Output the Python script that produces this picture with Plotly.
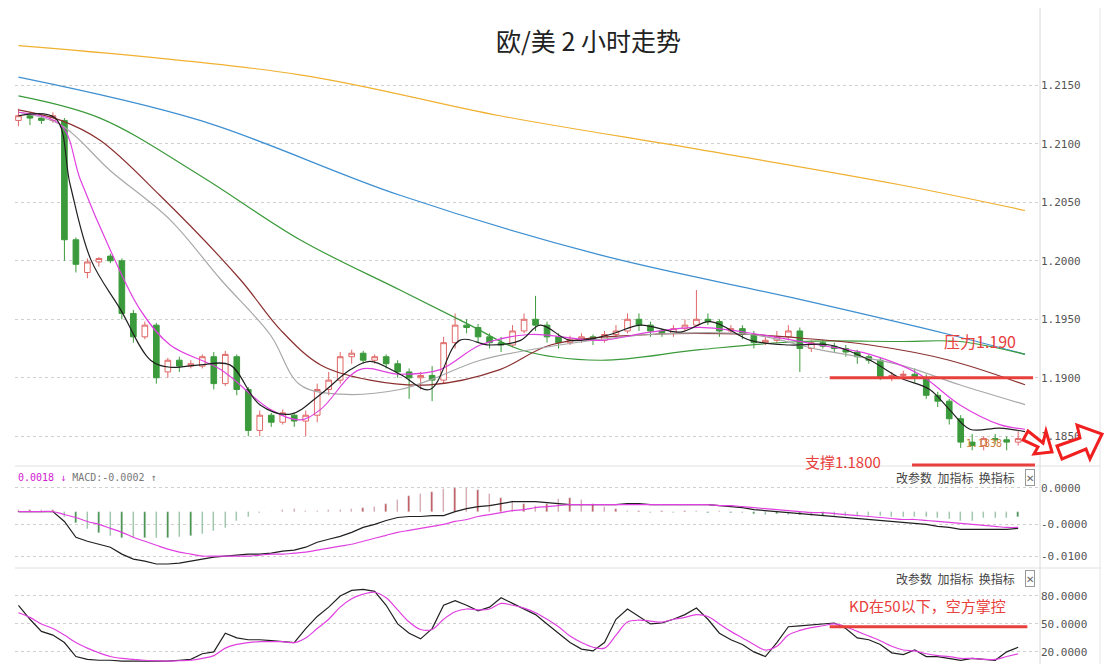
import plotly.graph_objects as go

W, H = 1097, 656
OFF = 8  # page body margin

# ---- price candles (2h bars) ----
opens = [1.2120, 1.2124, 1.2122, 1.2120, 1.2120, 1.2018, 1.1990, 1.1999, 1.2004, 1.2000,
         1.1955, 1.1935, 1.1945, 1.1905, 1.1915, 1.1910, 1.1910, 1.1918, 1.1895, 1.1918,
         1.1890, 1.1855, 1.1868, 1.1862, 1.1868, 1.1863, 1.1868, 1.1890, 1.1898, 1.1918,
         1.1921, 1.1915, 1.1918, 1.1912, 1.1905, 1.1900, 1.1902, 1.1898, 1.1930, 1.1945,
         1.1943, 1.1935, 1.1930, 1.1928, 1.1940, 1.1950, 1.1945, 1.1935, 1.1930, 1.1933,
         1.1935, 1.1932, 1.1937, 1.1940, 1.1950, 1.1945, 1.1940, 1.1938, 1.1942, 1.1945,
         1.1950, 1.1948, 1.1940, 1.1942, 1.1937, 1.1930, 1.1932, 1.1935, 1.1940, 1.1925,
         1.1930, 1.1927, 1.1925, 1.1922, 1.1918, 1.1915, 1.1900, 1.1902, 1.1903, 1.1900,
         1.1885, 1.1880, 1.1865, 1.1845, 1.1842, 1.1848, 1.1847, 1.1845]
closes = [1.2124, 1.2122, 1.2120, 1.2124, 1.2018, 1.1997, 1.1999, 1.2002, 1.2000, 1.1955,
          1.1935, 1.1945, 1.1900, 1.1915, 1.1910, 1.1912, 1.1918, 1.1895, 1.1920, 1.1890,
          1.1855, 1.1868, 1.1862, 1.1870, 1.1863, 1.1868, 1.1890, 1.1898, 1.1918, 1.1921,
          1.1915, 1.1918, 1.1912, 1.1905, 1.1900, 1.1902, 1.1898, 1.1930, 1.1945, 1.1943,
          1.1935, 1.1930, 1.1928, 1.1940, 1.1950, 1.1945, 1.1935, 1.1930, 1.1933, 1.1935,
          1.1932, 1.1937, 1.1940, 1.1950, 1.1945, 1.1940, 1.1938, 1.1942, 1.1945, 1.1950,
          1.1948, 1.1940, 1.1942, 1.1937, 1.1930, 1.1932, 1.1935, 1.1940, 1.1925, 1.1930,
          1.1927, 1.1925, 1.1922, 1.1918, 1.1915, 1.1900, 1.1902, 1.1903, 1.1900, 1.1885,
          1.1880, 1.1865, 1.1845, 1.1842, 1.1848, 1.1847, 1.1845, 1.1848]
highs = [1.2130, 1.2127, 1.2125, 1.2127, 1.2122, 1.2020, 1.2002, 1.2003, 1.2006, 1.2002,
         1.1958, 1.1948, 1.1947, 1.1917, 1.1918, 1.1915, 1.1920, 1.1922, 1.1923, 1.1920,
         1.1892, 1.1872, 1.1870, 1.1873, 1.1870, 1.1872, 1.1895, 1.1905, 1.1922, 1.1924,
         1.1923, 1.1920, 1.1920, 1.1915, 1.1908, 1.1905, 1.1910, 1.1935, 1.1955, 1.1950,
         1.1946, 1.1938, 1.1935, 1.1945, 1.1955, 1.1970, 1.1948, 1.1938, 1.1936, 1.1938,
         1.1937, 1.1940, 1.1945, 1.1955, 1.1955, 1.1948, 1.1942, 1.1945, 1.1950, 1.1975,
         1.1955, 1.1950, 1.1945, 1.1945, 1.1940, 1.1935, 1.1940, 1.1945, 1.1943, 1.1932,
         1.1932, 1.1930, 1.1928, 1.1924, 1.1920, 1.1917, 1.1905, 1.1906, 1.1908, 1.1903,
         1.1888, 1.1882, 1.1868, 1.1852, 1.1850, 1.1852, 1.1850, 1.1855]
lows = [1.2115, 1.2116, 1.2117, 1.2118, 1.2000, 1.1990, 1.1985, 1.1995, 1.1998, 1.1950,
        1.1930, 1.1933, 1.1895, 1.1900, 1.1905, 1.1908, 1.1908, 1.1890, 1.1893, 1.1885,
        1.1850, 1.1850, 1.1858, 1.1860, 1.1858, 1.1850, 1.1862, 1.1885, 1.1895, 1.1912,
        1.1912, 1.1912, 1.1908, 1.1900, 1.1882, 1.1890, 1.1880, 1.1895, 1.1925, 1.1938,
        1.1930, 1.1925, 1.1922, 1.1926, 1.1938, 1.1940, 1.1930, 1.1925, 1.1928, 1.1930,
        1.1928, 1.1930, 1.1935, 1.1938, 1.1940, 1.1935, 1.1935, 1.1935, 1.1940, 1.1944,
        1.1945, 1.1935, 1.1938, 1.1933, 1.1925, 1.1928, 1.1930, 1.1932, 1.1905, 1.1922,
        1.1925, 1.1922, 1.1918, 1.1912, 1.1912, 1.1898, 1.1897, 1.1898, 1.1896, 1.1882,
        1.1875, 1.1860, 1.1840, 1.1838, 1.1838, 1.1843, 1.1838, 1.1842]
bars = list(range(len(closes)))

# ---- moving averages (bar position, price) ----
ma_orange_x = [0, 24.5, 41.9, 59.3, 76.7, 87.6]
ma_orange_y = [1.2184, 1.2159, 1.2124, 1.2095, 1.2065, 1.2043]
ma_blue_x = [0, 15.8, 33.2, 50.6, 68, 81, 87.6]
ma_blue_y = [1.2157, 1.2120, 1.2056, 1.2005, 1.1967, 1.1937, 1.1920]
ma_green_x = [0, 7.1, 15.8, 24.5, 33.2, 39.3, 43.7, 50.6, 59.3, 68, 76.7, 81.9, 87.6]
ma_green_y = [1.2141, 1.2122, 1.2073, 1.2018, 1.1975, 1.1945, 1.1924, 1.1915, 1.1924,
              1.1931, 1.1931, 1.1931, 1.1920]
ma_brown_x = [0, 3.7, 7.1, 12.3, 19.3, 22.8, 26.3, 30.6, 35.8, 41.9, 46.3, 55, 63.7, 68,
              74.1, 81, 87.6]
ma_brown_y = [1.2129, 1.2120, 1.2103, 1.2056, 1.1984, 1.1941, 1.1911, 1.1898, 1.1894,
              1.1907, 1.1928, 1.1937, 1.1937, 1.1934, 1.1928, 1.1915, 1.1894]
ma_gray_x = [0, 3.7, 8, 13.2, 17.6, 21.9, 24.5, 28, 33.2, 35.8, 40.2, 47.1, 55, 63.7,
             69.7, 76.7, 81.9, 87.6]
ma_gray_y = [1.2127, 1.2116, 1.2077, 1.2035, 1.1984, 1.1937, 1.1894, 1.1886, 1.1890,
             1.1898, 1.1915, 1.1928, 1.1937, 1.1937, 1.1924, 1.1911, 1.1894, 1.1877]
ma_pink_x = [0, 3.7, 5.4, 8, 10.6, 13.2, 17.6, 21.9, 24.5, 26.3, 29.7, 33.2, 36.7, 40.2,
             44.5, 50.6, 55, 59.3, 64.5, 69.7, 74.1, 78.4, 81.9, 85.4, 87.6]
ma_pink_y = [1.2127, 1.2116, 1.2069, 1.2009, 1.1958, 1.1928, 1.1907, 1.1873, 1.1864,
             1.1873, 1.1907, 1.1903, 1.1907, 1.1928, 1.1937, 1.1932, 1.1939, 1.1943,
             1.1937, 1.1928, 1.1920, 1.1903, 1.1877, 1.1860, 1.1856]
ma_black_x = [0, 3.2, 4.5, 6.3, 8.9, 11.5, 13.2, 15.8, 18.4, 21, 23.7, 26.3, 28.9, 30.6,
              33.2, 35.8, 38.4, 41, 43.7, 45.4, 48, 51.5, 54.1, 57.6, 60.2, 63.7, 67.1,
              70.6, 74.1, 76.7, 79.3, 81, 82.8, 85.4, 87.6]
ma_black_y = [1.2124, 1.2122, 1.2065, 1.2001, 1.1958, 1.1915, 1.1909, 1.1911, 1.1911,
              1.1877, 1.1869, 1.1886, 1.1907, 1.1914, 1.1903, 1.1890, 1.1932, 1.1928,
              1.1932, 1.1945, 1.1932, 1.1937, 1.1945, 1.1939, 1.1948, 1.1932, 1.1928,
              1.1928, 1.1915, 1.1900, 1.1890, 1.1873, 1.1856, 1.1857, 1.1854]

# ---- MACD ----
dif = [0, 0, 0, 0, -0.0010, -0.0026, -0.0030, -0.0033, -0.0036, -0.0043,
       -0.0048, -0.0050, -0.0053, -0.0053, -0.0052, -0.0050, -0.0048, -0.0046, -0.0045, -0.0044,
       -0.0043, -0.0043, -0.0042, -0.0040, -0.0039, -0.0036, -0.0031, -0.0028, -0.0025, -0.0021,
       -0.0016, -0.0013, -0.0009, -0.0006, -0.0005, -0.0005, -0.0004, -0.0004, 0.0000, 0.0003,
       0.0005, 0.0006, 0.0008, 0.0010, 0.0010, 0.0010, 0.0009, 0.0008, 0.0007, 0.0007,
       0.0007, 0.0007, 0.0007, 0.0008, 0.0008, 0.0007, 0.0007, 0.0007, 0.0007, 0.0007,
       0.0007, 0.0006, 0.0005, 0.0004, 0.0002, 0.0001, 0.0000, -0.0001, -0.0002, -0.0003,
       -0.0004, -0.0005, -0.0006, -0.0007, -0.0008, -0.0009, -0.0010, -0.0011, -0.0012, -0.0013,
       -0.0015, -0.0016, -0.0018, -0.0018, -0.0018, -0.0018, -0.0018, -0.0017]
dea = [0, 0, 0, 0, -0.0003, -0.0006, -0.0010, -0.0013, -0.0017, -0.0021,
       -0.0026, -0.0030, -0.0034, -0.0038, -0.0041, -0.0043, -0.0045, -0.0045, -0.0045, -0.0045,
       -0.0045, -0.0044, -0.0043, -0.0043, -0.0042, -0.0041, -0.0039, -0.0037, -0.0035, -0.0033,
       -0.0030, -0.0027, -0.0024, -0.0021, -0.0019, -0.0017, -0.0015, -0.0013, -0.0010, -0.0008,
       -0.0005, -0.0003, -0.0001, 0.0001, 0.0002, 0.0004, 0.0005, 0.0006, 0.0007, 0.0007,
       0.0007, 0.0007, 0.0007, 0.0007, 0.0007, 0.0007, 0.0007, 0.0007, 0.0007, 0.0007,
       0.0007, 0.0006, 0.0006, 0.0005, 0.0004, 0.0003, 0.0002, 0.0001, 0.0000, -0.0001,
       -0.0001, -0.0002, -0.0003, -0.0004, -0.0005, -0.0006, -0.0007, -0.0008, -0.0008, -0.0009,
       -0.0010, -0.0011, -0.0012, -0.0013, -0.0014, -0.0015, -0.0016, -0.0016]
macd_hist = [0.0002, 0.0002, 0.0002, 0.0002, -0.0005, -0.0012, -0.0018, -0.0022, -0.0025, -0.0027,
             -0.0027, -0.0027, -0.0027, -0.0027, -0.0026, -0.0025, -0.0023, -0.0020, -0.0017, -0.0010,
             -0.0005, -0.0001, 0.0000, 0.0002, 0.0003, 0.0001, 0.0001, 0.0002, 0.0002, 0.0003,
             0.0004, 0.0005, 0.0008, 0.0012, 0.0016, 0.0018, 0.0020, 0.0023, 0.0024, 0.0024,
             0.0022, 0.0018, 0.0014, 0.0011, 0.0008, 0.0006, 0.0008, 0.0013, 0.0014, 0.0012,
             0.0008, 0.0005, 0.0003, 0.0001, 0.0001, -0.0001, 0.0001, -0.0001, 0.0001, 0.0001,
             -0.0001, 0.0001, -0.0001, -0.0001, -0.0002, -0.0003, -0.0002, -0.0003, -0.0003, -0.0004,
             -0.0004, -0.0004, -0.0004, -0.0004, -0.0004, -0.0004, -0.0005, -0.0005, -0.0005, -0.0005,
             -0.0006, -0.0008, -0.0010, -0.0010, -0.0007, -0.0007, -0.0006, -0.0005]

# ---- KD ----
k_line = [70, 55, 42, 38, 30, 15, 12, 11, 11, 10, 10, 10, 10, 10, 11, 12, 18, 20, 40, 35,
          33, 33, 32, 31, 30, 45, 58, 68, 80, 86, 87, 85, 70, 50, 40, 34, 45, 70, 75, 70,
          64, 68, 78, 72, 66, 60, 50, 40, 30, 23, 21, 30, 55, 66, 58, 50, 51, 55, 60, 67,
          55, 40, 33, 28, 20, 15, 30, 47, 48, 49, 50, 51, 45, 35, 33, 28, 19, 17, 22, 15,
          15, 13, 11, 13, 12, 11, 20, 25]
d_line = [62, 57, 50, 45, 38, 30, 24, 19, 15, 13, 12, 11, 10.5, 10, 10.5, 11, 13, 16, 24, 28,
          30, 31, 31, 31, 30, 35, 45, 55, 68, 77, 82, 84, 78, 65, 52, 44, 44, 55, 63, 66,
          65, 66, 72, 70, 67, 62, 55, 47, 37, 30, 25, 24, 38, 52, 54, 53, 52, 55, 57, 60,
          58, 50, 42, 35, 28, 22, 26, 38, 43, 46, 48, 50, 47, 42, 37, 32, 26, 22, 21, 18,
          16, 15, 13, 13, 12, 12, 15, 18]

price_ticks = [1.2150, 1.2100, 1.2050, 1.2000, 1.1950, 1.1900, 1.1850]
macd_ticks = [0.0024, -0.0013, -0.0045]
macd_tick_text = ["0.0000", "-0.0000", "-0.0100"]
kd_ticks = [80, 50, 20]


def px(x):
    return (x - OFF) / W


def py(y):
    return 1 - (y - OFF) / H


RED = "#e8403c"
UP = "#e06666"
DOWN = "#3b9a3b"

fig = go.Figure()
fig.add_trace(go.Candlestick(
    x=bars, open=opens, high=highs, low=lows, close=closes,
    increasing=dict(line=dict(color=UP, width=1), fillcolor="white"),
    decreasing=dict(line=dict(color=DOWN, width=1), fillcolor=DOWN),
    whiskerwidth=0, xaxis="x", yaxis="y", showlegend=False, hoverinfo="skip"))

for xs, ys, c in [(ma_orange_x, ma_orange_y, "#f0b030"), (ma_blue_x, ma_blue_y, "#3d8fd1"),
                  (ma_green_x, ma_green_y, "#3a9a3a"), (ma_brown_x, ma_brown_y, "#8b3030"),
                  (ma_gray_x, ma_gray_y, "#a8a8a8"), (ma_pink_x, ma_pink_y, "#e040e0"),
                  (ma_black_x, ma_black_y, "#202020")]:
    fig.add_trace(go.Scatter(x=xs, y=ys, mode="lines", line=dict(color=c, width=1.2, shape="spline"),
                             xaxis="x", yaxis="y", showlegend=False, hoverinfo="skip"))

fig.add_trace(go.Bar(x=bars, y=macd_hist, width=0.12,
                     marker_color=["#c05050" if v > 0 else "#3a8a3a" for v in macd_hist],
                     xaxis="x2", yaxis="y2", showlegend=False))
fig.add_trace(go.Scatter(x=bars, y=dif, mode="lines", line=dict(color="#202020", width=1.2),
                         xaxis="x2", yaxis="y2", showlegend=False))
fig.add_trace(go.Scatter(x=bars, y=dea, mode="lines", line=dict(color="#e040e0", width=1.2, shape="spline"),
                         xaxis="x2", yaxis="y2", showlegend=False))

fig.add_trace(go.Scatter(x=bars, y=k_line, mode="lines", line=dict(color="#202020", width=1.2),
                         xaxis="x3", yaxis="y3", showlegend=False))
fig.add_trace(go.Scatter(x=bars, y=d_line, mode="lines", line=dict(color="#e040e0", width=1.2, shape="spline"),
                         xaxis="x3", yaxis="y3", showlegend=False))

xdom = [px(15), px(1040)]
xr = [-0.3, 88.9]
xax = dict(domain=xdom, range=xr, showgrid=False, showticklabels=False, zeroline=False,
           rangeslider=dict(visible=False), fixedrange=True)
yax = dict(side="right", showgrid=True, gridcolor="#d0d0d0", griddash="dot", zeroline=False,
           tickfont=dict(family="DejaVu Sans Mono", size=11, color="#555"), ticks="")

fig.update_layout(
    width=W, height=H, plot_bgcolor="white", paper_bgcolor="white",
    margin=dict(l=0, r=0, t=0, b=0), bargap=0,
    xaxis=dict(xax), xaxis2=dict(xax, anchor="y2"), xaxis3=dict(xax, anchor="y3"),
    yaxis=dict(yax, domain=[py(462), py(28)], range=[1.1828, 1.2199], tickvals=price_ticks,
               tickformat=".4f", anchor="x"),
    yaxis2=dict(yax, domain=[py(566), py(470)], range=[-0.0055, 0.0042], tickvals=macd_ticks,
                ticktext=macd_tick_text, anchor="x2"),
    yaxis3=dict(yax, domain=[max(0, py(664)), py(572)], range=[7, 105.7], tickvals=kd_ticks,
                ticktext=["80.0000", "50.0000", "20.0000"], anchor="x3"),
    font=dict(family="Noto Sans CJK SC"),
)

shapes = [
    dict(type="line", xref="paper", yref="paper", x0=px(1040), x1=px(1040), y0=0, y1=1,
         line=dict(color="#d8d8d8", width=1)),
    dict(type="line", xref="paper", yref="paper", x0=px(1100), x1=px(1100), y0=0, y1=1,
         line=dict(color="#e4e4e4", width=1)),
    dict(type="line", xref="paper", yref="paper", x0=px(15), x1=px(1100), y0=py(466), y1=py(466),
         line=dict(color="#e0e0e0", width=1)),
    dict(type="line", xref="paper", yref="paper", x0=px(15), x1=px(1100), y0=py(568), y1=py(568),
         line=dict(color="#e0e0e0", width=1)),
    # resistance / support / KD lines
    dict(type="line", xref="x", yref="y", x0=70.6, x1=88.3, y0=1.1900, y1=1.1900,
         line=dict(color=RED, width=3)),
    dict(type="line", xref="paper", yref="paper", x0=px(912), x1=px(1035), y0=py(465), y1=py(465),
         line=dict(color=RED, width=3)),
    dict(type="line", xref="x3", yref="y3", x0=70.6, x1=87.8, y0=47, y1=47,
         line=dict(color=RED, width=3)),
]
# two hollow arrows (pixel outlines)
a1 = [(1028, 431), (1043, 443), (1046, 431), (1052, 452), (1034, 454), (1038, 447), (1023, 440)]
a2 = [(1057, 446), (1080, 438), (1077, 425), (1102, 434), (1090, 459), (1086, 449), (1062, 459)]
for pts in [a1, a2]:
    path = "M " + " L ".join(f"{px(x):.4f},{py(y):.4f}" for x, y in pts) + " Z"
    shapes.append(dict(type="path", xref="paper", yref="paper", path=path,
                       line=dict(color="#f02020", width=3), fillcolor="white"))
fig.update_layout(shapes=shapes)

ann = [
    dict(x=px(588), y=py(40), text="欧/美 2 小时走势", font=dict(size=25, color="#222")),
    dict(x=px(980), y=py(341), text="压力1.190", font=dict(size=16, color=RED)),
    dict(x=px(843), y=py(462), text="支撑1.1800", font=dict(size=15, color=RED)),
    dict(x=px(984), y=py(443), text="1.1838", font=dict(size=10, color="#d08040", family="DejaVu Sans Mono")),
    dict(x=px(927), y=py(605), text="KD在50以下，空方掌控", font=dict(size=15, color=RED)),
    dict(x=px(955), y=py(477), text="改参数  加指标  换指标", font=dict(size=12, color="#444")),
    dict(x=px(955), y=py(578), text="改参数  加指标  换指标", font=dict(size=12, color="#444")),
    dict(x=px(1030), y=py(477), text="✕", font=dict(size=10, color="#666"), bordercolor="#999", borderpad=0),
    dict(x=px(1030), y=py(578), text="✕", font=dict(size=10, color="#666"), bordercolor="#999", borderpad=0),
    dict(x=px(16), y=py(477), xanchor="left",
         text="<span style='color:#d020d0'>0.0018 ↓</span> <span style='color:#777'>MACD:-0.0002 ↑</span>",
         font=dict(size=10, family="DejaVu Sans Mono")),
]
for a in ann:
    a.setdefault("xanchor", "center")
    fig.add_annotation(xref="paper", yref="paper", showarrow=False, yanchor="middle", **a)

fig.write_html("out.html")
